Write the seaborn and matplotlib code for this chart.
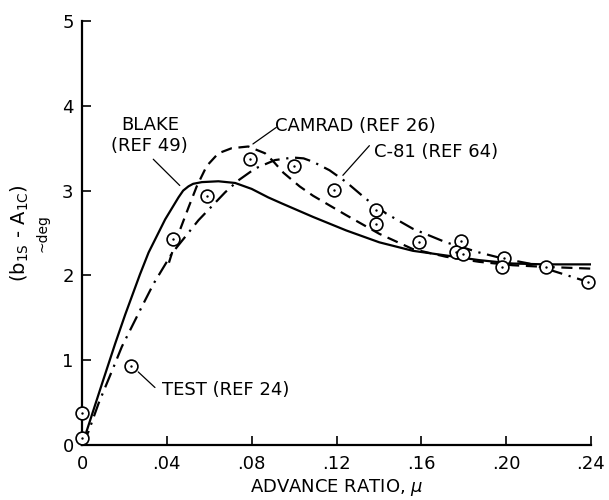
import matplotlib
matplotlib.use("Agg")
import matplotlib.pyplot as plt
import pandas as pd
import seaborn as sns

# Values
blake_mu = [0.0, 0.0024, 0.0094, 0.0157, 0.0204, 0.0273, 0.0314, 0.0392, 0.0455, 0.0477,
            0.0502, 0.0524, 0.0565, 0.0643, 0.0722, 0.080, 0.0878, 0.0941, 0.1089, 0.1246,
            0.1402, 0.156, 0.1716, 0.1873, 0.203, 0.2187, 0.24]
blake_val = [0.0, 0.18, 0.72, 1.20, 1.54, 2.01, 2.27, 2.66, 2.92, 3.00,
             3.05, 3.08, 3.10, 3.11, 3.09, 3.02, 2.92, 2.85, 2.69, 2.53,
             2.39, 2.29, 2.235, 2.18, 2.14, 2.13, 2.13]

camrad_mu = [0.041, 0.0435, 0.0458, 0.0502, 0.0541, 0.0588, 0.0643, 0.0706, 0.0784, 0.0863,
             0.09, 0.095, 0.1026, 0.1089, 0.1246, 0.1402, 0.156, 0.1716, 0.1873, 0.203,
             0.2187, 0.24]
camrad_val = [2.15, 2.35, 2.51, 2.80, 3.05, 3.29, 3.44, 3.50, 3.52, 3.44,
              3.35, 3.21, 3.05, 2.94, 2.71, 2.49, 2.31, 2.22, 2.16, 2.12,
              2.10, 2.08]

c81_mu = [0.0, 0.0031, 0.0078, 0.0149, 0.0188, 0.0248, 0.0282, 0.0337, 0.0424, 0.0549,
          0.0675, 0.0737, 0.0816, 0.091, 0.0995, 0.1045, 0.1089, 0.1167, 0.1246, 0.134,
          0.1434, 0.156, 0.1716, 0.1873, 0.1983, 0.2108, 0.2187, 0.239]
c81_val = [0.0, 0.16, 0.49, 0.92, 1.16, 1.46, 1.63, 1.90, 2.26, 2.65,
           2.98, 3.12, 3.26, 3.36, 3.39, 3.38, 3.34, 3.24, 3.10, 2.90,
           2.73, 2.55, 2.39, 2.27, 2.20, 2.14, 2.08, 1.92]

test_mu = [0.0, 0.0, 0.0229, 0.0429, 0.059, 0.0794, 0.0998, 0.119, 0.1387, 0.1387,
           0.1588, 0.1787, 0.1763, 0.1795, 0.199, 0.1978, 0.2187, 0.2386]
test_val = [0.38, 0.08, 0.93, 2.43, 2.94, 3.37, 3.29, 3.01, 2.77, 2.61,
            2.39, 2.40, 2.28, 2.25, 2.20, 2.10, 2.10, 1.92]

x_ticks = [0, 0.04, 0.08, 0.12, 0.16, 0.20, 0.24]
x_ticklabels = ["0", ".04", ".08", ".12", ".16", ".20", ".24"]
y_ticks = [0, 1, 2, 3, 4, 5]

sns.set_style("ticks")
plt.rcParams["font.family"] = ["DejaVu Sans"]
plt.rcParams["mathtext.fontset"] = "dejavusans"
for key in ["text.color", "axes.labelcolor", "xtick.color", "ytick.color", "axes.edgecolor"]:
    plt.rcParams[key] = "black"

curves = pd.concat([
    pd.DataFrame({"mu": blake_mu, "val": blake_val, "model": "BLAKE"}),
    pd.DataFrame({"mu": camrad_mu, "val": camrad_val, "model": "CAMRAD"}),
    pd.DataFrame({"mu": c81_mu, "val": c81_val, "model": "C-81"}),
], ignore_index=True)
test = pd.DataFrame({"mu": test_mu, "val": test_val})

fig = plt.figure(figsize=(6.09, 5.0), dpi=100)
ax = fig.add_axes([82 / 609, 55 / 500, 509 / 609, 424 / 500])

sns.lineplot(data=curves, x="mu", y="val", style="model", estimator=None,
             dashes={"BLAKE": "", "CAMRAD": (5, 3), "C-81": (7, 3, 1, 3)},
             color="black", linewidth=1.6, legend=False, ax=ax)

sns.scatterplot(data=test, x="mu", y="val", marker="o", s=85, facecolor="white",
                edgecolor="black", linewidth=1.2, zorder=5, clip_on=False, ax=ax)
sns.scatterplot(data=test, x="mu", y="val", marker="o", s=3, color="black",
                linewidth=0, zorder=6, clip_on=False, ax=ax)

ax.set_xlim(0, 0.24)
ax.set_ylim(0, 5)
ax.set_xticks(x_ticks)
ax.set_xticklabels(x_ticklabels)
ax.set_yticks(y_ticks)
ax.tick_params(direction="in", length=6.5, width=1.2, labelsize=13, color="black")
ax.tick_params(axis="x", pad=7)
ax.tick_params(axis="y", pad=6)
sns.despine(ax=ax)
for side in ["left", "bottom"]:
    ax.spines[side].set_linewidth(1.6)

ax.set_xlabel(r"ADVANCE RATIO, $\mu$", fontsize=13, labelpad=3)
ax.set_ylabel("")
ax.text(-0.122, 0.5, r"(b$_{\mathrm{1S}}$ - A$_{\mathrm{1C}}$)", rotation=90,
        transform=ax.transAxes, ha="center", va="center", fontsize=14)
ax.text(-0.077, 0.5, "~deg", rotation=90, transform=ax.transAxes,
        ha="center", va="center", fontsize=10)

# curve labels with leader lines
ax.text(0.032, 3.65, "BLAKE\n(REF 49)", ha="center", va="center", fontsize=13,
        linespacing=1.2)
ax.plot([0.0336, 0.0461], [3.37, 3.06], color="black", lw=0.9)
ax.text(0.0908, 3.765, "CAMRAD (REF 26)", ha="left", va="center", fontsize=13)
ax.plot([0.0916, 0.0806], [3.745, 3.55], color="black", lw=0.9)
ax.text(0.1379, 3.46, "C-81 (REF 64)", ha="left", va="center", fontsize=13)
ax.plot([0.1355, 0.123], [3.53, 3.18], color="black", lw=0.9)
ax.text(0.0375, 0.647, "TEST (REF 24)", ha="left", va="center", fontsize=13)
ax.plot([0.0265, 0.0344], [0.862, 0.678], color="black", lw=0.9)

fig.savefig("out.png", dpi=100)
